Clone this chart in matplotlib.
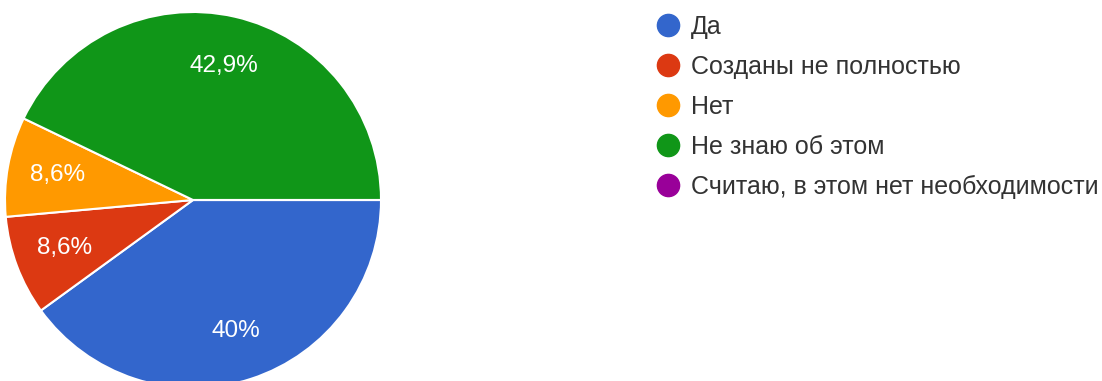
import matplotlib.pyplot as plt
from matplotlib.lines import Line2D

plt.rcParams['font.family'] = ['Liberation Sans', 'DejaVu Sans']

# survey answers (35 respondents)
labels = ['Да', 'Созданы не полностью', 'Нет', 'Не знаю об этом',
          'Считаю, в этом нет необходимости']
counts = [14, 3, 3, 15, 0]
colors = ['#3366cc', '#dc3912', '#ff9900', '#109618', '#990099']


def fmt_pct(p):
    if p < 0.05:
        return ''
    s = f'{p:.1f}'
    if s.endswith('.0'):
        s = s[:-2]
    return s.replace('.', ',') + '%'


W, H = 1102, 381
fig = plt.figure(figsize=(W / 100, H / 100), dpi=100)

# pie: centre (193, 200) px, radius 188 px
cx, cy, r = 193, 200, 188
ax = fig.add_axes([(cx - r) / W, (H - cy - r) / H, 2 * r / W, 2 * r / H])
wedges, texts, autotexts = ax.pie(counts, colors=colors, startangle=0, counterclock=False,
                                  autopct=fmt_pct, pctdistance=0.73,
                                  wedgeprops=dict(edgecolor='white', linewidth=1.5),
                                  textprops=dict(color='white', fontsize=17.5))
ax.set_xlim(-1, 1)
ax.set_ylim(-1, 1)
ax.set_aspect('equal')

handles = [Line2D([], [], marker='o', linestyle='', markersize=16, color=c) for c in colors]
leg = fig.legend(handles, labels, loc='upper left', bbox_to_anchor=(655 / W, 1 - 15 / H),
                 frameon=False, fontsize=18, labelspacing=0.64, handletextpad=0.45,
                 handlelength=1.0, borderpad=0, borderaxespad=0)
for t in leg.get_texts():
    t.set_color('#333333')

fig.savefig('out.png', dpi=100)
